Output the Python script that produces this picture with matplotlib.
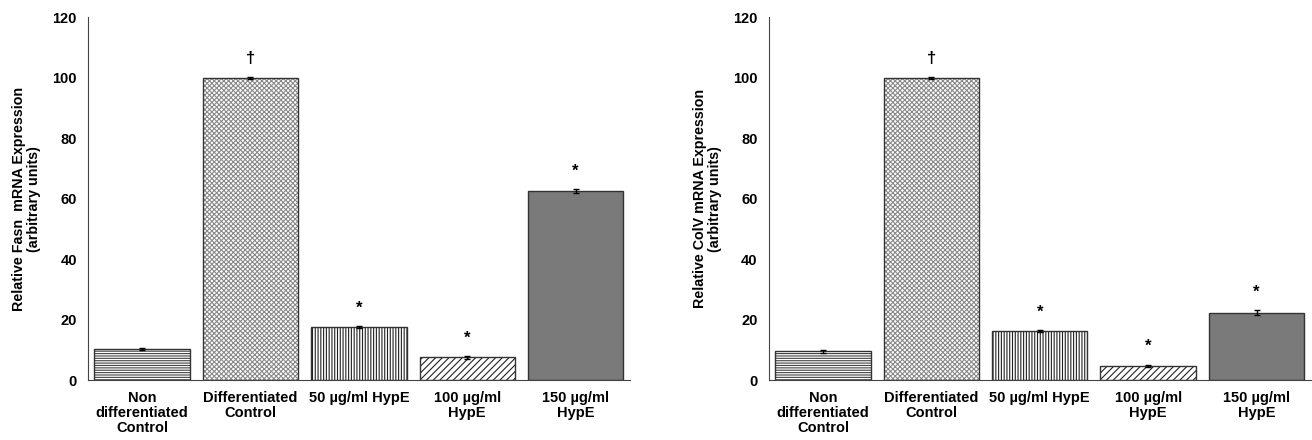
import matplotlib.pyplot as plt
import numpy as np

plt.rcParams['font.family'] = ['Liberation Sans', 'DejaVu Sans']
plt.rcParams['hatch.linewidth'] = 0.8

categories = ['Non\ndifferentiated\nControl', 'Differentiated\nControl', '50 µg/ml HypE',
              '100 µg/ml\nHypE', '150 µg/ml\nHypE']

fasn_values = [10.2, 100, 17.5, 7.5, 62.5]
fasn_err = [0.3, 0.3, 0.4, 0.4, 0.6]
fasn_marks = ['', '†', '*', '*', '*']

colv_values = [9.5, 100, 16.2, 4.8, 22.3]
colv_err = [0.5, 0.3, 0.3, 0.3, 0.9]
colv_marks = ['', '†', '*', '*', '*']

hatches = ['-------', 'xxxxxxx', '||||||', '/////', '']
hatch_colors = ['#444444', '#8a8a8a', '#222222', '#222222', '#7a7a7a']
faces = ['white', 'white', 'white', 'white', '#7a7a7a']

fig = plt.figure(figsize=(13.12, 4.4), dpi=100)
ax1 = fig.add_axes([0.067, 0.136, 0.413, 0.825])
ax2 = fig.add_axes([0.586, 0.136, 0.413, 0.825])


def draw(ax, values, err, marks, ylabel):
    x = np.arange(len(categories))
    for i in range(len(values)):
        # hatch layer, then outline on top
        ax.bar(x[i], values[i], width=0.88, color=faces[i], edgecolor=hatch_colors[i],
               hatch=hatches[i], linewidth=0)
        ax.bar(x[i], values[i], width=0.88, fill=False, edgecolor='#333333', linewidth=1.0)
        ax.errorbar(x[i], values[i], yerr=err[i], fmt='none', ecolor='black',
                    elinewidth=1, capsize=2)
        if marks[i]:
            ax.text(x[i], values[i] + err[i] + 6, marks[i], ha='center', va='center',
                    fontsize=12, fontweight='bold')
    ax.set_xlim(-0.5, 4.5)
    ax.set_ylim(0, 120)
    ax.set_yticks(range(0, 121, 20))
    ax.set_xticks(x)
    ax.set_xticklabels(categories, fontsize=10.5, fontweight='bold', linespacing=1.1)
    for lab in ax.get_yticklabels():
        lab.set_fontweight('bold')
        lab.set_fontsize(10.5)
    ax.tick_params(length=0, pad=8)
    ax.spines['top'].set_visible(False)
    ax.spines['right'].set_visible(False)
    ax.spines['left'].set_color('#444444')
    ax.spines['bottom'].set_color('#444444')
    ax.set_ylabel(ylabel, fontsize=10.3, fontweight='bold', linespacing=1.1, labelpad=8)


draw(ax1, fasn_values, fasn_err, fasn_marks,
     'Relative Fasn  mRNA Expression\n(arbitrary units)')
draw(ax2, colv_values, colv_err, colv_marks,
     'Relative ColV mRNA Expression\n(arbitrary units)')

plt.savefig('out.png', dpi=100)
